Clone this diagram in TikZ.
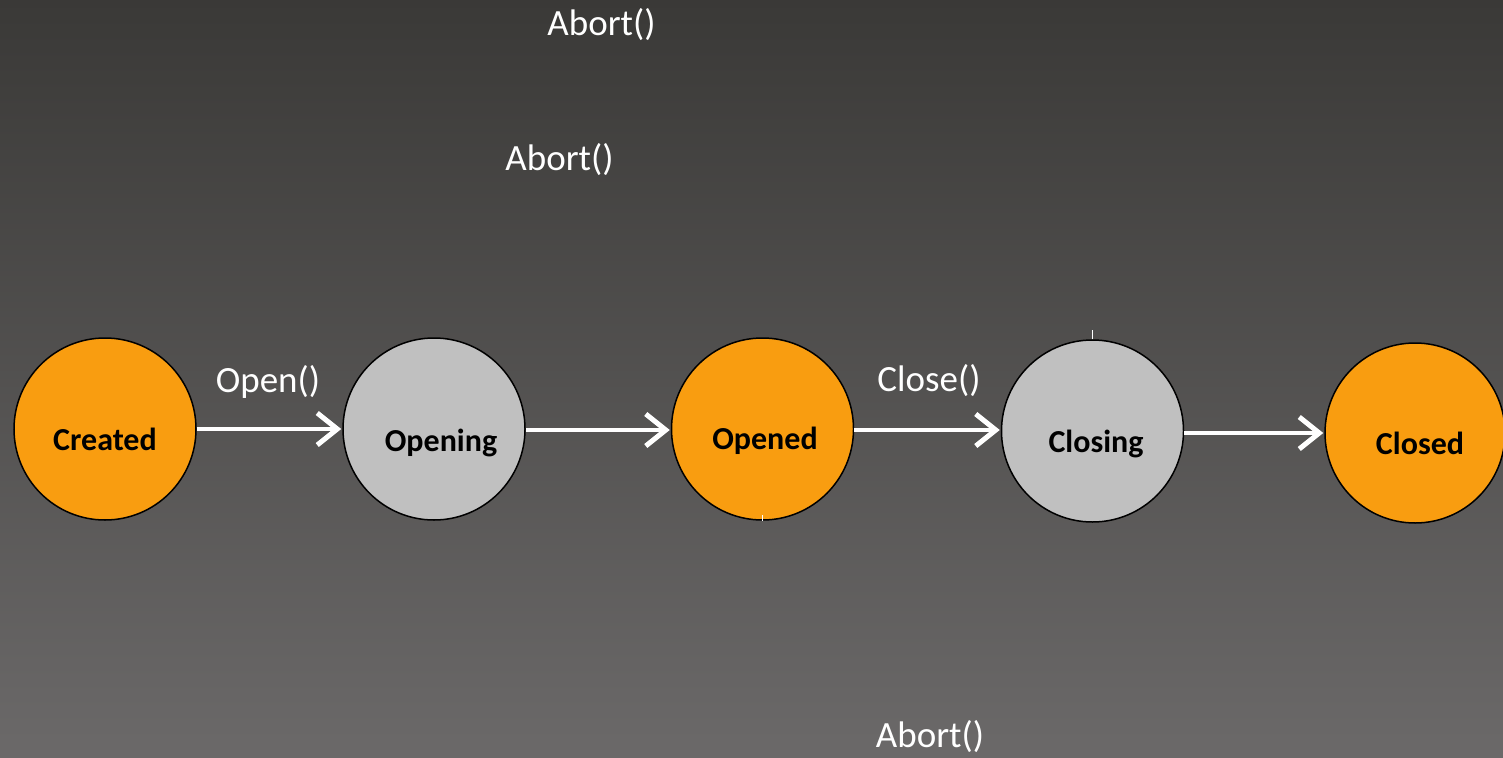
\documentclass[tikz,border=0pt]{standalone}
\usepackage{fontspec}
\setmainfont{Carlito}
\usetikzlibrary{arrows.meta}
\definecolor{bgtop}{RGB}{58,57,55}
\definecolor{bgbot}{RGB}{107,105,105}
\definecolor{stateorange}{RGB}{249,157,16}
\definecolor{stategray}{RGB}{192,192,192}
\begin{document}
\begin{tikzpicture}[x=1pt,y=-1pt,
  state/.style={circle, draw=black, line width=1.5pt, minimum size=182pt, inner sep=0pt},
  active/.style={state, fill=stateorange},
  busy/.style={state, fill=stategray},
  statename/.style={anchor=base, font=\fontsize{32}{36}\selectfont\bfseries, text=black, inner sep=0pt},
  call/.style={anchor=base, font=\fontsize{37}{42}\selectfont, text=white, inner sep=0pt},
  trans/.style={draw=white, line width=4.5pt, -{Straight Barb[length=20pt,width=32pt,line width=5pt]}, shorten >=1pt},
  stub/.style={draw=white, line width=0.8pt}]
  % background
  \shade[top color=bgtop, bottom color=bgbot] (0,0) rectangle (1503,757);
  \useasboundingbox (0,0) rectangle (1503,757);

  % states
  \node[active] (created) at (105,429) {};
  \node[busy]   (opening) at (434,429) {};
  \node[active] (opened)  at (762.5,429) {};
  \node[busy]   (closing) at (1092.5,431) {};
  \node[active, minimum size=180pt] (closed) at (1415,433) {};

  \node[statename] (createdtxt) at (105,450) {Created};
  \node[statename] (openingtxt) at (441,451) {Opening};
  \node[statename] (openedtxt)  at (765,449) {Opened};
  \node[statename] (closingtxt) at (1096,452) {Closing};
  \node[statename] (closedtxt)  at (1420,454) {Closed};

  % transitions
  \draw[trans] (created.east |- 0,429) -- (opening.west |- 0,429);
  \draw[trans] (opening.east |- 0,430) -- (opened.west |- 0,430);
  \draw[trans] (opened.east |- 0,430) -- (closing.west |- 0,430);
  \draw[trans] (closing.east |- 0,433) -- (closed.west |- 0,433);

  % small marks on the circles
  \draw[stub] (closing.north) -- ++(0,-9);
  \draw[stub] (opened.south) -- ++(0,-6);

  % method labels
  \node[call] (open)   at (268,392) {Open()};
  \node[call] (close)  at (929,391) {Close()};
  \node[call] (abort1) at (601.5,36) {Abort()};
  \node[call] (abort2) at (559.5,170) {Abort()};
  \node[call] (abort3) at (930,747) {Abort()};
\end{tikzpicture}
\end{document}
